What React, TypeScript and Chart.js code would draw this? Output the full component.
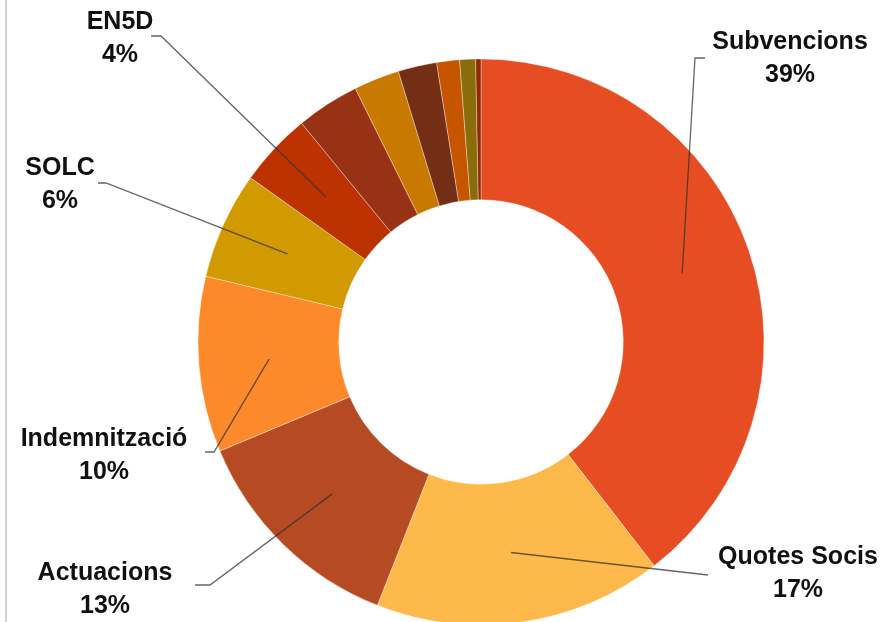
import React, { useEffect, useRef } from "react";
import { Chart, registerables } from "chart.js";

Chart.register(...registerables);

// ---- data ----
const categories = [
  "Subvencions",
  "Quotes Socis",
  "Actuacions",
  "Indemnització",
  "SOLC",
  "EN5D",
  "Altres 1",
  "Altres 2",
  "Altres 3",
  "Altres 4",
  "Altres 5",
  "Altres 6",
];
const values = [39.4, 16.4, 12.7, 10.0, 6.1, 4.2, 3.6, 2.6, 2.2, 1.3, 0.9, 0.3];
const percentLabels = ["39%", "17%", "13%", "10%", "6%", "4%"];
const colors = [
  "#E64D22",
  "#FDB94A",
  "#B64A22",
  "#FD8A2A",
  "#D09A00",
  "#BC3200",
  "#983214",
  "#C87A00",
  "#742E16",
  "#C65500",
  "#8A6D0A",
  "#8E2A05",
];

// ---- label layout (elbow point, tick end, text centre) ----
const labelLayout = [
  { elbow: [695, 58], tick: [705, 58], text: [790, 42] },
  { elbow: [708, 575], tick: [708, 575], text: [798, 557] },
  { elbow: [210, 585], tick: [195, 585], text: [105, 573] },
  { elbow: [214, 452], tick: [205, 452], text: [104, 439] },
  { elbow: [106, 183], tick: [98, 183], text: [60, 168] },
  { elbow: [161, 36], tick: [151, 36], text: [120, 22] },
];

const leaderPlugin = {
  id: "leaders",
  afterDraw(chart: any) {
    const ctx = chart.ctx;
    const meta = chart.getDatasetMeta(0);
    ctx.save();
    labelLayout.forEach((lay, i) => {
      const arc = meta.data[i];
      if (!arc) return;
      const p = arc.getProps(["x", "y", "startAngle", "endAngle", "innerRadius", "outerRadius"], true);
      const mid = (p.startAngle + p.endAngle) / 2;
      const r = (p.innerRadius + p.outerRadius) / 2;
      const sx = p.x + Math.cos(mid) * r;
      const sy = p.y + Math.sin(mid) * r;
      ctx.beginPath();
      ctx.strokeStyle = "rgba(50,50,50,0.75)";
      ctx.lineWidth = 1.3;
      ctx.moveTo(sx, sy);
      ctx.lineTo(lay.elbow[0], lay.elbow[1]);
      ctx.lineTo(lay.tick[0], lay.tick[1]);
      ctx.stroke();

      ctx.fillStyle = "#111111";
      ctx.font = 'bold 25px "Liberation Sans", Arial, sans-serif';
      ctx.textAlign = "center";
      ctx.textBaseline = "middle";
      ctx.fillText(categories[i], lay.text[0], lay.text[1]);
      ctx.fillText(percentLabels[i], lay.text[0], lay.text[1] + 33);
    });
    ctx.restore();
  },
};

export default function App() {
  const ref = useRef<HTMLCanvasElement | null>(null);

  useEffect(() => {
    if (!ref.current) return;
    const chart = new Chart(ref.current, {
      type: "doughnut",
      data: {
        labels: categories,
        datasets: [
          {
            data: values,
            backgroundColor: colors,
            borderColor: "rgba(255,255,255,0.35)",
            borderWidth: 1,
          },
        ],
      },
      options: {
        animation: false,
        responsive: false,
        devicePixelRatio: 1,
        radius: 283,
        cutout: 142,
        layout: { padding: { left: 198, right: 120, top: 59, bottom: 25 } },
        plugins: {
          legend: { display: false },
          tooltip: { enabled: false },
        },
      } as any,
      plugins: [leaderPlugin],
    });
    return () => chart.destroy();
  }, []);

  return (
    <div
      style={{
        position: "fixed",
        left: 0,
        top: 0,
        width: 884,
        height: 622,
        overflow: "hidden",
        background: "#ffffff",
      }}
    >
      <canvas
        ref={ref}
        width={884}
        height={650}
        style={{ position: "absolute", left: 0, top: 0, width: 884, height: 650 }}
      />
      <div
        style={{
          position: "absolute",
          left: 5,
          top: 0,
          width: 2,
          height: 622,
          background: "#d4d4d4",
        }}
      />
    </div>
  );
}
